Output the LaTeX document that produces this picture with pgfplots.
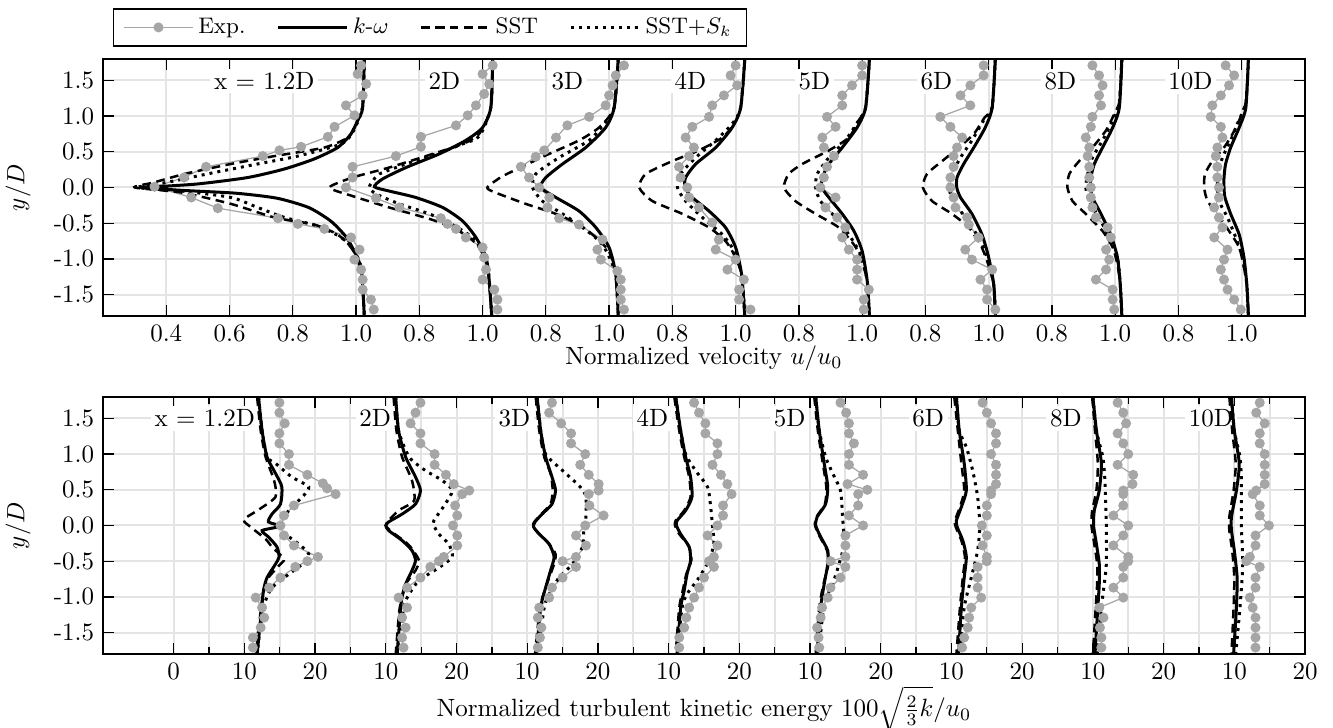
\documentclass[border=0pt]{standalone}
\usepackage{pgfplots}
\pgfplotsset{compat=1.18}
\definecolor{expgray}{RGB}{166,166,166}
\definecolor{gridgray}{RGB}{228,228,228}

\tikzset{lab/.style={fill=white, inner sep=1.5pt}}
\pgfplotsset{
  E/.style={expgray, line width=0.5pt, mark=*, mark size=1.75pt, mark options={draw=expgray, fill=expgray, solid}},
  K/.style={black, line width=1.2pt, smooth, tension=0.4, no marks},
  S/.style={black, line width=1.0pt, dash pattern=on 3.5pt off 2.2pt, smooth, tension=0.4, no marks},
  P/.style={black, line width=1.2pt, dotted, smooth, tension=0.4, no marks},
  st/.style={forget plot, x filter/.expression={x+0.4*#1}},
  sk/.style={forget plot, x filter/.expression={x+20*#1}},
  pan/.style={
    scale only axis, width=480.8pt, height=102.8pt,
    ymin=-1.8, ymax=1.8,
    ytick={-1.5,-1,...,1.5},
    yticklabels={-1.5,-1.0,-0.5,0.0,0.5,1.0,1.5},
    ylabel={$y/D$},
    every axis y label/.style={at={(axis description cs:-0.0707,0.5)}, rotate=90, anchor=center},
    major grid style={draw=gridgray, line width=0.8pt},
    minor grid style={draw=gridgray, line width=0.8pt},
    axis line style={line width=0.6pt},
    tick style={black, line width=0.5pt},
  },
}

\begin{document}
\begin{tikzpicture}
\path[use as bounding box] (0,0) rectangle (533.2pt,-291.2pt);

% ---------------- velocity ----------------
\begin{axis}[pan,
  at={(41.2pt,-23.6pt)}, anchor=north west,
  xmin=0.2, xmax=4.0,
  xtick={0.4,0.6,...,3.81},
  xticklabels={0.4,0.6,0.8,1.0,0.8,1.0,0.8,1.0,0.8,1.0,0.8,1.0,0.8,1.0,0.8,1.0,0.8,1.0},
  grid=major,
  xlabel={Normalized velocity $u/u_0$},
  every axis x label/.style={at={(axis description cs:0.5,-0.082)}, anchor=north},
  legend columns=4,
  legend image code/.code={\draw[mark repeat=2,mark phase=2,#1] plot coordinates {(0cm,0cm) (0.48cm,0cm) (0.96cm,0cm)};},
  legend style={at={(axis description cs:0.0083,1.198)}, anchor=north west, font=\small,
    draw=black, line width=0.6pt, inner xsep=4pt, inner ysep=1.5pt,
    /tikz/every even column/.append style={column sep=10.5pt}},
]
\addlegendimage{E}\addlegendentry{Exp.}
\addlegendimage{K}\addlegendentry{$k$-$\omega$}
\addlegendimage{S}\addlegendentry{SST}
\addlegendimage{P}\addlegendentry{SST+$S_k$}

\node[lab] at (axis cs:0.71,1.49) {x = 1.2D};
\node[lab] at (axis cs:1.279,1.49) {2D};
\node[lab] at (axis cs:1.668,1.49) {3D};
\node[lab] at (axis cs:2.057,1.49) {4D};
\node[lab] at (axis cs:2.449,1.49) {5D};
\node[lab] at (axis cs:2.835,1.49) {6D};
\node[lab] at (axis cs:3.227,1.49) {8D};
\node[lab] at (axis cs:3.638,1.49) {10D};

% x = 1.2D
\addplot[E,st=0] coordinates {(1.016,1.71) (1.005,1.59) (1.032,1.45) (1.021,1.29) (0.968,1.15) (0.995,1.01) (0.932,0.85) (0.911,0.71) (0.826,0.57) (0.758,0.52) (0.705,0.44) (0.526,0.29) (0.456,0.14) (0.363,0.01) (0.479,-0.14) (0.563,-0.29) (0.753,-0.43) (0.816,-0.51) (0.9,-0.58) (0.984,-0.70) (1.011,-0.87) (0.995,-1.01) (1.016,-1.15) (1.021,-1.29) (1.021,-1.43) (1.047,-1.57) (1.056,-1.71)};
\addplot[K,st=0] coordinates {(1.026,1.8) (1.021,1.12) (1.005,0.94) (0.984,0.75) (0.942,0.56) (0.868,0.40) (0.774,0.26) (0.658,0.14) (0.5,0.05) (0.363,0.01) (0.32,0) (0.45,-0.04) (0.62,-0.08) (0.75,-0.15) (0.85,-0.28) (0.92,-0.47) (0.97,-0.70) (1.0,-0.95) (1.018,-1.2) (1.026,-1.8)};
\addplot[S,st=0] coordinates {(1.026,1.8) (1.02,1.12) (0.995,0.85) (0.974,0.70) (0.90,0.56) (0.742,0.44) (0.605,0.33) (0.458,0.19) (0.36,0.07) (0.30,0.0) (0.447,-0.07) (0.605,-0.23) (0.742,-0.42) (0.868,-0.52) (0.942,-0.66) (0.984,-0.84) (1.016,-1.12) (1.026,-1.8)};
\addplot[P,st=0] coordinates {(1.026,1.8) (1.02,1.12) (0.99,0.78) (0.953,0.61) (0.816,0.44) (0.689,0.33) (0.53,0.19) (0.40,0.07) (0.31,0) (0.45,-0.05) (0.605,-0.14) (0.689,-0.28) (0.774,-0.42) (0.879,-0.54) (0.953,-0.70) (0.99,-0.86) (1.016,-1.12) (1.026,-1.8)};
% 2D
\addplot[E,st=1] coordinates {(1.032,1.71) (1.0,1.59) (1.021,1.45) (1.005,1.31) (0.979,1.15) (0.953,1.01) (0.916,0.87) (0.805,0.71) (0.805,0.57) (0.726,0.44) (0.589,0.29) (0.589,0.14) (0.568,0.0) (0.663,-0.15) (0.737,-0.28) (0.868,-0.43) (0.889,-0.51) (0.916,-0.58) (0.947,-0.70) (1.0,-0.84) (1.005,-0.98) (1.011,-1.15) (1.0,-1.29) (1.037,-1.43) (1.047,-1.57) (1.047,-1.71)};
\addplot[K,st=1] coordinates {(1.032,1.8) (1.026,1.12) (1.0,0.84) (0.947,0.66) (0.863,0.47) (0.758,0.28) (0.684,0.12) (0.658,0.01) (0.705,-0.05) (0.789,-0.14) (0.874,-0.28) (0.937,-0.47) (0.979,-0.70) (1.011,-0.98) (1.021,-1.31) (1.029,-1.8)};
\addplot[S,st=1] coordinates {(1.032,1.8) (1.026,1.12) (0.989,0.75) (0.937,0.61) (0.842,0.47) (0.705,0.28) (0.589,0.14) (0.516,0) (0.589,-0.12) (0.705,-0.28) (0.832,-0.44) (0.905,-0.56) (0.958,-0.70) (0.989,-0.84) (1.016,-1.12) (1.029,-1.8)};
\addplot[P,st=1] coordinates {(1.032,1.8) (1.026,1.12) (0.99,0.72) (0.937,0.61) (0.853,0.47) (0.758,0.33) (0.674,0.19) (0.653,0.09) (0.642,0) (0.663,-0.09) (0.737,-0.23) (0.832,-0.37) (0.905,-0.52) (0.968,-0.70) (1.0,-0.9) (1.018,-1.15) (1.029,-1.8)};
% 3D
\addplot[E,st=2] coordinates {(1.047,1.71) (1.021,1.57) (1.011,1.43) (1.0,1.29) (0.989,1.15) (0.937,0.99) (0.868,0.87) (0.832,0.70) (0.795,0.52) (0.768,0.43) (0.721,0.29) (0.747,0.14) (0.779,0.0) (0.811,-0.14) (0.805,-0.28) (0.842,-0.43) (0.905,-0.52) (0.979,-0.73) (0.963,-0.87) (0.974,-1.01) (1.026,-1.17) (1.037,-1.29) (1.037,-1.43) (1.037,-1.57) (1.047,-1.71)};
\addplot[K,st=2] coordinates {(1.029,1.8) (1.016,1.12) (0.989,0.84) (0.926,0.56) (0.853,0.33) (0.8,0.14) (0.784,0) (0.832,-0.14) (0.905,-0.33) (0.958,-0.56) (1.0,-0.84) (1.021,-1.22) (1.029,-1.8)};
\addplot[S,st=2] coordinates {(1.029,1.8) (1.016,1.12) (0.968,0.84) (0.905,0.66) (0.8,0.45) (0.72,0.28) (0.66,0.15) (0.615,0) (0.64,-0.07) (0.737,-0.23) (0.832,-0.37) (0.905,-0.52) (0.958,-0.70) (1.0,-0.9) (1.021,-1.22) (1.029,-1.8)};
\addplot[P,st=2] coordinates {(1.029,1.8) (1.016,1.12) (0.984,0.89) (0.937,0.66) (0.842,0.42) (0.768,0.19) (0.758,0) (0.789,-0.19) (0.853,-0.37) (0.916,-0.56) (0.979,-0.80) (1.02,-1.2) (1.029,-1.8)};
% 4D
\addplot[E,st=3] coordinates {(1.0,1.71) (0.984,1.57) (1.005,1.43) (0.963,1.29) (0.926,1.15) (0.916,0.99) (0.863,0.85) (0.842,0.70) (0.868,0.56) (0.853,0.44) (0.821,0.29) (0.826,0.14) (0.847,0.0) (0.853,-0.14) (0.884,-0.28) (0.926,-0.49) (0.947,-0.73) (0.937,-0.87) (1.0,-1.01) (0.974,-1.15) (1.026,-1.29) (1.011,-1.43) (1.011,-1.57) (1.047,-1.71)};
\addplot[K,st=3] coordinates {(1.029,1.8) (1.016,1.12) (0.989,0.84) (0.937,0.56) (0.874,0.33) (0.842,0.14) (0.84,0) (0.863,-0.14) (0.916,-0.33) (0.968,-0.56) (1.0,-0.84) (1.019,-1.22) (1.029,-1.8)};
\addplot[S,st=3] coordinates {(1.029,1.8) (1.016,1.12) (0.995,0.89) (0.958,0.70) (0.884,0.52) (0.8,0.37) (0.716,0.19) (0.695,0) (0.737,-0.19) (0.832,-0.37) (0.916,-0.56) (0.968,-0.75) (0.995,-0.94) (1.019,-1.22) (1.029,-1.8)};
\addplot[P,st=3] coordinates {(1.029,1.8) (1.016,1.12) (0.989,0.89) (0.937,0.66) (0.874,0.42) (0.826,0.19) (0.816,0) (0.842,-0.19) (0.895,-0.42) (0.958,-0.66) (0.995,-0.89) (1.019,-1.22) (1.029,-1.8)};
% 5D
\addplot[E,st=4] coordinates {(1.0,1.71) (1.0,1.57) (0.968,1.43) (0.937,1.29) (0.937,1.15) (0.889,0.99) (0.916,0.85) (0.874,0.70) (0.879,0.56) (0.911,0.44) (0.889,0.29) (0.879,0.14) (0.868,0.0) (0.916,-0.14) (0.884,-0.28) (0.921,-0.42) (0.947,-0.56) (0.937,-0.70) (0.958,-0.87) (0.984,-1.01) (0.984,-1.15) (0.984,-1.29) (1.021,-1.43) (1.005,-1.57) (1.005,-1.71)};
\addplot[K,st=4] coordinates {(1.023,1.8) (1.011,1.12) (0.984,0.84) (0.937,0.56) (0.895,0.33) (0.874,0.14) (0.872,0) (0.895,-0.14) (0.937,-0.37) (0.974,-0.61) (1.0,-0.89) (1.016,-1.31) (1.023,-1.8)};
\addplot[S,st=4] coordinates {(1.023,1.8) (1.011,1.12) (0.989,0.94) (0.958,0.70) (0.895,0.52) (0.811,0.33) (0.768,0.19) (0.753,0) (0.789,-0.19) (0.853,-0.37) (0.926,-0.56) (0.974,-0.80) (0.995,-0.98) (1.016,-1.31) (1.023,-1.8)};
\addplot[P,st=4] coordinates {(1.023,1.8) (1.011,1.12) (0.989,0.94) (0.947,0.66) (0.895,0.42) (0.858,0.19) (0.853,0) (0.868,-0.19) (0.916,-0.42) (0.958,-0.66) (0.995,-0.94) (1.016,-1.31) (1.023,-1.8)};
% 6D
\addplot[E,st=5] coordinates {(0.984,1.71) (0.984,1.57) (0.942,1.43) (0.911,1.29) (0.942,1.15) (0.847,0.99) (0.879,0.85) (0.916,0.70) (0.9,0.56) (0.889,0.44) (0.889,0.29) (0.879,0.14) (0.879,0.0) (0.889,-0.14) (0.895,-0.28) (0.932,-0.42) (0.937,-0.52) (0.968,-0.70) (0.926,-0.87) (0.947,-1.01) (1.011,-1.15) (0.974,-1.29) (0.995,-1.43) (0.995,-1.57) (1.021,-1.71)};
\addplot[K,st=5] coordinates {(1.021,1.8) (1.011,1.12) (0.989,0.84) (0.953,0.56) (0.921,0.33) (0.9,0.14) (0.899,0) (0.911,-0.14) (0.947,-0.37) (0.979,-0.66) (1.0,-0.98) (1.016,-1.36) (1.021,-1.8)};
\addplot[S,st=5] coordinates {(1.021,1.8) (1.011,1.12) (0.987,0.98) (0.953,0.75) (0.905,0.56) (0.853,0.37) (0.805,0.19) (0.792,0) (0.821,-0.19) (0.884,-0.37) (0.937,-0.56) (0.974,-0.80) (0.995,-1.03) (1.016,-1.36) (1.021,-1.8)};
\addplot[P,st=5] coordinates {(1.021,1.8) (1.011,1.12) (0.984,0.94) (0.947,0.66) (0.911,0.42) (0.884,0.19) (0.874,0) (0.889,-0.19) (0.926,-0.42) (0.968,-0.70) (0.995,-0.98) (1.016,-1.36) (1.021,-1.8)};
% 8D
\addplot[E,st=6] coordinates {(0.928,1.71) (0.949,1.57) (0.96,1.43) (0.949,1.29) (0.955,1.15) (0.928,0.99) (0.923,0.85) (0.907,0.70) (0.918,0.56) (0.913,0.44) (0.918,0.29) (0.918,0.14) (0.923,0.0) (0.923,-0.14) (0.928,-0.28) (0.939,-0.42) (0.976,-0.56) (0.986,-0.70) (0.971,-0.87) (0.981,-1.01) (0.971,-1.15) (0.939,-1.29) (0.992,-1.43) (0.992,-1.57) (0.997,-1.71)};
\addplot[K,st=6] coordinates {(1.021,1.8) (1.013,1.12) (0.992,0.84) (0.96,0.56) (0.934,0.33) (0.923,0.14) (0.922,0) (0.928,-0.14) (0.955,-0.37) (0.986,-0.66) (1.007,-0.98) (1.016,-1.36) (1.021,-1.8)};
\addplot[S,st=6] coordinates {(1.021,1.8) (1.013,1.2) (0.997,1.03) (0.971,0.80) (0.928,0.56) (0.886,0.37) (0.855,0.19) (0.849,0) (0.865,-0.19) (0.907,-0.37) (0.96,-0.61) (0.992,-0.84) (1.007,-1.08) (1.016,-1.36) (1.021,-1.8)};
\addplot[P,st=6] coordinates {(1.021,1.8) (1.013,1.2) (0.992,0.94) (0.96,0.66) (0.928,0.42) (0.913,0.19) (0.907,0) (0.918,-0.19) (0.949,-0.42) (0.981,-0.70) (1.007,-0.98) (1.016,-1.36) (1.021,-1.8)};
% 10D
\addplot[E,st=7] coordinates {(0.949,1.71) (0.976,1.57) (0.96,1.43) (0.934,1.29) (0.907,1.15) (0.902,0.99) (0.934,0.85) (0.939,0.70) (0.923,0.56) (0.918,0.44) (0.923,0.29) (0.923,0.14) (0.928,0.0) (0.928,-0.14) (0.913,-0.28) (0.928,-0.42) (0.939,-0.56) (0.913,-0.70) (0.955,-0.87) (0.944,-1.01) (0.934,-1.15) (0.944,-1.29) (0.955,-1.43) (0.976,-1.57) (0.997,-1.71)};
\addplot[K,st=7] coordinates {(1.021,1.8) (1.013,1.12) (0.992,0.84) (0.965,0.56) (0.949,0.33) (0.944,0.14) (0.944,0) (0.947,-0.14) (0.965,-0.37) (0.992,-0.66) (1.007,-0.98) (1.016,-1.36) (1.021,-1.8)};
\addplot[S,st=7] coordinates {(1.021,1.8) (1.013,1.2) (0.992,0.94) (0.971,0.75) (0.944,0.56) (0.907,0.37) (0.884,0.19) (0.881,0) (0.892,-0.19) (0.923,-0.37) (0.96,-0.61) (0.992,-0.84) (1.007,-1.12) (1.016,-1.36) (1.021,-1.8)};
\addplot[P,st=7] coordinates {(1.021,1.8) (1.013,1.2) (0.986,0.89) (0.965,0.66) (0.939,0.42) (0.926,0.19) (0.923,0) (0.928,-0.19) (0.955,-0.42) (0.981,-0.70) (1.002,-0.98) (1.016,-1.36) (1.021,-1.8)};
\end{axis}

% ---------------- turbulent kinetic energy ----------------
\begin{axis}[pan,
  at={(41.2pt,-158.8pt)}, anchor=north west,
  xmin=-10, xmax=160,
  xtick={0,10,...,160},
  minor xtick={5,15,...,155},
  xticklabels={0,10,20,10,20,10,20,10,20,10,20,10,20,10,20,10,20},
  grid=both,
  xlabel={Normalized turbulent kinetic energy $100\sqrt{\frac{2}{3}k}/u_0$},
  every axis x label/.style={at={(axis description cs:0.5,-0.113)}, anchor=north, inner sep=1pt},
]
\node[lab] at (axis cs:4.4,1.5) {x = 1.2D};
\node[lab] at (axis cs:28.5,1.5) {2D};
\node[lab] at (axis cs:48.2,1.5) {3D};
\node[lab] at (axis cs:67.7,1.5) {4D};
\node[lab] at (axis cs:87.1,1.5) {5D};
\node[lab] at (axis cs:106.7,1.5) {6D};
\node[lab] at (axis cs:126.2,1.5) {8D};
\node[lab] at (axis cs:146.7,1.5) {10D};

% x = 1.2D
\addplot[E,sk=0] coordinates {(14.95,1.72) (14.95,1.58) (15.7,1.43) (14.95,1.29) (14.95,1.15) (16.3,1.0) (16.3,0.85) (18.9,0.71) (21.1,0.59) (21.7,0.52) (22.9,0.44) (17.0,0.28) (15.6,0.14) (15.1,0.0) (15.6,-0.14) (17.0,-0.28) (20.4,-0.44) (18.9,-0.50) (17.2,-0.58) (15.1,-0.73) (13.5,-0.87) (11.6,-1.01) (12.5,-1.15) (12.8,-1.29) (12.3,-1.43) (11.2,-1.57) (11.2,-1.71)};
\addplot[K,sk=0] coordinates {(12.0,1.8) (12.5,1.33) (13.2,0.96) (14.4,0.73) (15.3,0.54) (15.1,0.30) (13.9,0.16) (13.4,0.05) (15.1,-0.01) (12.5,-0.07) (13.4,-0.16) (14.6,-0.30) (14.9,-0.44) (14.4,-0.54) (13.2,-0.73) (12.7,-0.91) (12.4,-1.2) (11.8,-1.8)};
\addplot[S,sk=0] coordinates {(11.8,1.8) (12.3,1.33) (13.0,0.96) (14.2,0.63) (14.4,0.40) (12.0,0.22) (9.9,0.08) (11.0,-0.03) (13.0,-0.19) (13.9,-0.30) (15.6,-0.47) (14.9,-0.56) (13.4,-0.73) (12.7,-0.91) (12.3,-1.2) (11.6,-1.8)};
\addplot[P,sk=0] coordinates {(12.0,1.8) (12.5,1.33) (13.2,0.96) (14.4,0.87) (16.7,0.68) (19.1,0.54) (18.2,0.40) (16.7,0.26) (15.6,0.12) (15.1,0) (15.8,-0.12) (17.7,-0.26) (19.1,-0.40) (18.2,-0.54) (16.3,-0.68) (13.9,-0.87) (13.0,-1.05) (12.4,-1.3) (11.8,-1.8)};
% 2D
\addplot[E,sk=1] coordinates {(14.9,1.72) (14.2,1.58) (13.5,1.43) (14.9,1.29) (14.9,1.15) (16.9,1.0) (16.9,0.85) (18.5,0.71) (19.6,0.58) (21.8,0.49) (20.8,0.44) (19.8,0.28) (20.1,0.14) (19.5,0.0) (20.1,-0.14) (20.1,-0.28) (18.2,-0.44) (17.5,-0.50) (16.3,-0.58) (14.9,-0.73) (13.0,-0.87) (11.8,-1.01) (13.0,-1.15) (12.3,-1.29) (12.8,-1.43) (12.3,-1.57) (12.5,-1.71)};
\addplot[K,sk=1] coordinates {(11.4,1.8) (11.8,1.33) (12.8,0.96) (14.2,0.68) (14.9,0.49) (14.2,0.30) (12.3,0.16) (10.4,0.05) (10.0,0) (10.4,-0.07) (12.3,-0.21) (13.7,-0.35) (14.2,-0.49) (13.7,-0.63) (12.8,-0.82) (12.3,-1.0) (12.1,-1.15) (11.6,-1.8)};
\addplot[S,sk=1] coordinates {(11.1,1.8) (11.5,1.33) (12.3,0.96) (13.7,0.63) (14.0,0.35) (11.8,0.21) (10.4,0.07) (10.0,0) (10.6,-0.07) (12.5,-0.21) (13.5,-0.30) (14.7,-0.49) (14.2,-0.63) (12.8,-0.82) (12.3,-1.0) (11.9,-1.2) (11.4,-1.8)};
\addplot[P,sk=1] coordinates {(11.4,1.8) (11.8,1.33) (13.3,0.96) (15.6,0.77) (18.0,0.63) (19.4,0.49) (18.4,0.30) (16.8,0.07) (16.8,0) (17.5,-0.12) (18.9,-0.26) (19.4,-0.44) (17.5,-0.59) (14.7,-0.77) (13.3,-0.96) (12.5,-1.15) (11.6,-1.8)};
% 3D
\addplot[E,sk=2] coordinates {(13.5,1.72) (13.1,1.58) (14.8,1.43) (16.2,1.29) (16.2,1.15) (18.2,1.0) (17.5,0.85) (18.7,0.71) (20.1,0.58) (20.1,0.49) (18.7,0.44) (18.8,0.28) (20.8,0.14) (18.2,0.0) (16.9,-0.14) (18.3,-0.28) (16.9,-0.44) (15.0,-0.50) (16.9,-0.58) (15.0,-0.73) (13.5,-0.87) (13.1,-1.01) (11.7,-1.15) (11.5,-1.29) (12.0,-1.43) (11.8,-1.57) (11.5,-1.71)};
\addplot[K,sk=2] coordinates {(11.4,1.8) (11.9,1.33) (12.6,0.96) (13.5,0.68) (14.0,0.49) (13.5,0.30) (12.1,0.16) (11.1,0.05) (10.9,-0.02) (11.7,-0.12) (13.1,-0.26) (13.8,-0.44) (13.3,-0.63) (12.6,-0.87) (11.9,-1.15) (11.3,-1.8)};
\addplot[S,sk=2] coordinates {(11.2,1.8) (11.7,1.33) (12.4,0.96) (13.3,0.73) (13.6,0.49) (13.3,0.30) (12.0,0.16) (11.0,0.05) (10.8,-0.02) (11.7,-0.12) (13.1,-0.26) (14.0,-0.40) (13.8,-0.54) (12.6,-0.87) (11.8,-1.15) (11.1,-1.8)};
\addplot[P,sk=2] coordinates {(11.4,1.8) (11.9,1.33) (12.6,1.0) (15.0,0.77) (17.5,0.54) (18.3,0.40) (18.3,0.12) (18.0,-0.07) (17.8,-0.30) (16.4,-0.54) (14.5,-0.73) (13.1,-0.96) (12.4,-1.15) (11.5,-1.8)};
% 4D
\addplot[E,sk=3] coordinates {(13.6,1.72) (14.3,1.58) (15.2,1.43) (15.2,1.29) (16.9,1.15) (16.9,1.0) (16.2,0.85) (17.4,0.71) (18.3,0.58) (18.9,0.44) (17.7,0.28) (17.7,0.14) (16.9,0.0) (15.5,-0.14) (16.9,-0.28) (16.4,-0.44) (15.7,-0.50) (16.4,-0.58) (15.0,-0.73) (14.3,-0.87) (13.6,-1.01) (12.9,-1.15) (12.5,-1.29) (12.2,-1.43) (11.5,-1.57) (11.5,-1.71)};
\addplot[K,sk=3] coordinates {(11.0,1.8) (11.7,1.33) (12.4,0.96) (13.1,0.68) (13.3,0.40) (12.4,0.21) (11.2,0.07) (11.1,0) (11.7,-0.12) (12.9,-0.30) (13.1,-0.49) (12.6,-0.68) (12.2,-0.91) (11.7,-1.15) (11.2,-1.8)};
\addplot[S,sk=3] coordinates {(10.8,1.8) (11.5,1.33) (12.2,0.96) (12.9,0.68) (13.1,0.40) (12.2,0.21) (11.0,0.07) (10.9,0) (11.5,-0.12) (12.9,-0.30) (13.2,-0.49) (12.5,-0.68) (12.0,-0.91) (11.5,-1.15) (11.0,-1.8)};
\addplot[P,sk=3] coordinates {(11.0,1.8) (11.7,1.33) (12.4,1.0) (13.8,0.77) (15.5,0.54) (15.9,0.30) (16.2,0) (16.4,-0.26) (15.7,-0.49) (14.3,-0.73) (12.6,-0.96) (11.9,-1.15) (11.2,-1.8)};
% 5D
\addplot[E,sk=4] coordinates {(14.3,1.72) (15.1,1.58) (15.5,1.43) (15.5,1.29) (16.2,1.15) (15.5,1.0) (15.5,0.85) (17.5,0.71) (15.3,0.58) (18.1,0.50) (16.8,0.44) (16.8,0.28) (15.5,0.14) (17.5,0.0) (15.0,-0.14) (15.0,-0.28) (15.0,-0.44) (12.9,-0.50) (15.0,-0.58) (14.3,-0.73) (12.9,-0.87) (12.5,-1.01) (11.7,-1.15) (11.5,-1.29) (11.0,-1.43) (11.2,-1.57) (11.3,-1.71)};
\addplot[K,sk=4] coordinates {(10.8,1.8) (11.3,1.33) (12.0,0.87) (12.5,0.54) (12.2,0.30) (11.0,0.12) (10.8,0) (11.5,-0.16) (12.5,-0.35) (12.5,-0.54) (12.0,-0.82) (11.5,-1.15) (11.0,-1.8)};
\addplot[S,sk=4] coordinates {(10.6,1.8) (11.1,1.33) (11.8,0.87) (12.3,0.54) (12.1,0.30) (10.9,0.12) (10.7,0) (11.4,-0.16) (12.4,-0.35) (12.6,-0.54) (11.9,-0.82) (11.3,-1.15) (10.8,-1.8)};
\addplot[P,sk=4] coordinates {(10.8,1.8) (11.3,1.33) (12.2,0.96) (13.2,0.73) (14.3,0.49) (14.6,0.12) (14.8,-0.26) (14.1,-0.54) (13.2,-0.82) (12.0,-1.1) (11.2,-1.8)};
% 6D
\addplot[E,sk=5] coordinates {(14.4,1.72) (15.0,1.58) (15.6,1.43) (16.3,1.29) (16.3,1.15) (15.6,1.0) (16.3,0.85) (16.3,0.71) (16.3,0.58) (15.6,0.49) (15.6,0.44) (15.0,0.28) (15.0,0.14) (14.3,0.0) (15.0,-0.14) (14.4,-0.28) (15.0,-0.44) (15.0,-0.50) (13.7,-0.58) (13.7,-0.73) (13.7,-0.87) (14.2,-1.01) (12.8,-1.15) (12.5,-1.29) (12.3,-1.43) (11.8,-1.57) (11.5,-1.71)};
\addplot[K,sk=5] coordinates {(10.7,1.8) (11.1,1.33) (11.8,0.87) (12.1,0.49) (11.4,0.26) (10.7,0.07) (10.8,-0.02) (11.6,-0.21) (12.1,-0.44) (11.8,-0.73) (11.4,-1.15) (11.0,-1.8)};
\addplot[S,sk=5] coordinates {(10.4,1.8) (10.9,1.33) (11.4,0.87) (11.8,0.49) (11.2,0.26) (10.5,0.07) (10.6,-0.02) (11.4,-0.21) (11.9,-0.44) (11.6,-0.73) (11.2,-1.15) (10.7,-1.8)};
\addplot[P,sk=5] coordinates {(10.7,1.8) (11.1,1.33) (12.1,1.10) (13.0,0.77) (13.7,0.40) (14.0,0) (13.7,-0.35) (12.8,-0.73) (11.8,-1.15) (11.2,-1.8)};
% 8D
\addplot[E,sk=6] coordinates {(13.5,1.72) (14.3,1.58) (14.7,1.43) (13.5,1.29) (14.3,1.15) (15.0,1.0) (13.5,0.85) (15.7,0.71) (15.6,0.58) (14.3,0.49) (14.3,0.44) (14.3,0.28) (12.9,0.14) (15.0,0.0) (14.3,-0.14) (12.9,-0.28) (15.0,-0.44) (15.0,-0.50) (14.3,-0.58) (14.3,-0.73) (12.9,-0.87) (14.3,-1.01) (10.9,-1.15) (11.5,-1.29) (11.0,-1.43) (11.2,-1.57) (11.2,-1.71)};
\addplot[K,sk=6] coordinates {(10.0,1.8) (10.5,1.33) (11.2,0.87) (10.9,0.49) (10.2,0.21) (10.1,0) (10.5,-0.26) (10.9,-0.54) (10.9,-0.82) (10.7,-1.15) (10.3,-1.8)};
\addplot[S,sk=6] coordinates {(9.9,1.8) (10.3,1.33) (10.7,0.87) (10.5,0.49) (9.9,0.21) (9.8,0) (10.2,-0.26) (10.6,-0.54) (10.6,-0.82) (10.4,-1.15) (10.0,-1.8)};
\addplot[P,sk=6] coordinates {(10.0,1.8) (10.5,1.33) (11.4,0.96) (11.7,0.63) (11.9,0) (11.9,-0.54) (11.5,-0.91) (11.2,-1.15) (10.6,-1.8)};
% 10D
\addplot[E,sk=7] coordinates {(13.6,1.72) (13.1,1.58) (14.3,1.43) (13.6,1.29) (13.6,1.15) (14.3,1.0) (14.3,0.85) (14.3,0.71) (14.3,0.58) (13.1,0.49) (12.6,0.44) (13.6,0.28) (13.6,0.14) (14.9,0.0) (13.0,-0.14) (13.0,-0.28) (12.2,-0.44) (11.7,-0.50) (13.6,-0.58) (13.0,-0.73) (13.0,-0.87) (12.2,-1.01) (12.6,-1.15) (13.0,-1.29) (13.0,-1.43) (13.0,-1.57) (13.0,-1.71)};
\addplot[K,sk=7] coordinates {(9.6,1.8) (10.0,1.33) (10.7,0.87) (10.3,0.49) (9.6,0.12) (9.6,-0.07) (10.0,-0.35) (10.4,-0.73) (10.3,-1.15) (9.9,-1.8)};
\addplot[S,sk=7] coordinates {(9.3,1.8) (9.7,1.33) (10.2,0.87) (9.9,0.49) (9.3,0.12) (9.3,-0.07) (9.7,-0.35) (10.0,-0.73) (9.9,-1.15) (9.6,-1.8)};
\addplot[P,sk=7] coordinates {(9.6,1.8) (10.0,1.33) (10.8,0.96) (11.0,0.63) (11.0,0) (11.2,-0.54) (10.8,-1.15) (10.2,-1.8)};
\end{axis}
\end{tikzpicture}
\end{document}
